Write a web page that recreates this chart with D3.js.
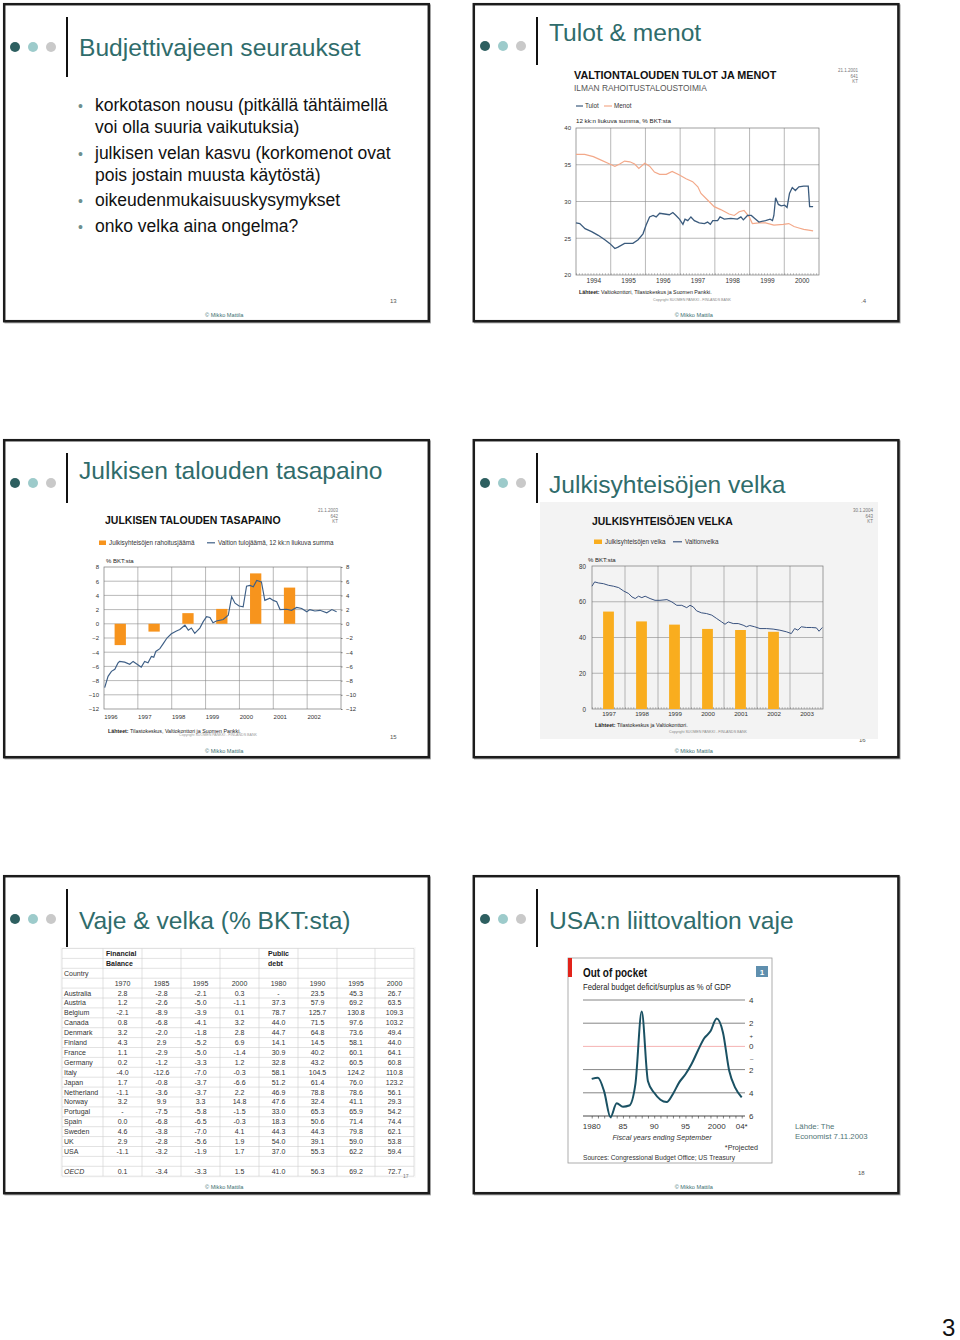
<!DOCTYPE html>
<html><head><meta charset="utf-8">
<script src="https://cdn.jsdelivr.net/npm/d3@7"></script>
<style>
body{margin:0;background:#fff;}
svg{display:block;font-family:"Liberation Sans",Arial,Helvetica,sans-serif;}
</style></head><body>
<script>
// ================= DATA =================
const slideTitles = ["Budjettivajeen seuraukset","Tulot & menot","Julkisen talouden tasapaino","Julkisyhteisöjen velka","Vaje & velka (% BKT:sta)","USA:n liittovaltion vaje"];
const bulletLines = [["korkotason nousu (pitkällä tähtäimellä","voi olla suuria vaikutuksia)"],["julkisen velan kasvu (korkomenot ovat","pois jostain muusta käytöstä)"],["oikeudenmukaisuuskysymykset"],["onko velka aina ongelma?"]];

// Slide 2: Valtiontalouden tulot ja menot (12 kk liukuva summa, % BKT)
const tulotT = [1994.00,1994.11,1994.26,1994.45,1994.64,1994.83,1994.97,1995.12,1995.21,1995.40,1995.64,1995.79,1995.93,1996.02,1996.12,1996.22,1996.31,1996.41,1996.55,1996.69,1996.79,1996.88,1996.98,1997.08,1997.14,1997.22,1997.31,1997.41,1997.55,1997.70,1997.79,1997.87,1997.94,1998.08,1998.15,1998.27,1998.46,1998.65,1998.75,1998.82,1998.94,1999.05,1999.15,1999.27,1999.46,1999.59,1999.66,1999.70,1999.75,1999.83,1999.91,2000.01,2000.08,2000.15,2000.23,2000.32,2000.42,2000.56,2000.69,2000.73,2000.83];
const tulotV = [27.1,27.0,26.3,25.9,25.4,24.8,24.3,23.6,23.8,24.3,24.3,24.8,25.6,26.8,27.9,28.1,27.9,28.4,28.3,28.2,28.5,28.1,27.6,26.9,27.6,27.4,27.9,27.4,27.1,27.0,27.2,26.9,27.4,27.4,27.9,27.6,27.7,27.6,27.9,27.5,28.1,28.1,27.7,27.2,27.4,27.6,27.4,28.1,30.5,29.6,29.4,29.5,29.2,31.1,31.9,31.5,32.0,32.1,32.1,29.3,29.3];
const menotT = [1994.00,1994.25,1994.50,1994.74,1994.97,1995.12,1995.26,1995.40,1995.55,1995.69,1995.81,1995.98,1996.12,1996.26,1996.41,1996.60,1996.77,1996.98,1997.17,1997.36,1997.51,1997.60,1997.79,1997.98,1998.17,1998.41,1998.56,1998.70,1998.84,1998.99,1999.08,1999.27,1999.46,1999.70,1999.97,2000.13,2000.28,2000.42,2000.56,2000.70,2000.83];
const menotV = [36.4,36.4,36.1,35.6,35.1,34.8,35.1,35.5,35.4,35.1,34.5,35.2,34.8,34.0,33.7,33.7,34.1,33.6,33.1,32.7,32.0,31.1,30.2,29.3,28.9,28.3,28.1,28.6,28.8,27.9,27.0,27.1,27.1,26.8,26.9,27.0,26.6,26.4,26.2,26.1,26.0];
const s2YTicks = [20,25,30,35,40];
const s2Years = [1994,1995,1996,1997,1998,1999,2000];

// Slide 3: Julkisen talouden tasapaino
const balYears = [1996,1997,1998,1999,2000,2001];
const balValues = [-3.0,-1.1,1.5,2.1,7.1,5.1];
const tuloT = [1996.02,1996.12,1996.22,1996.32,1996.41,1996.46,1996.61,1996.76,1996.86,1997.01,1997.10,1997.20,1997.30,1997.40,1997.47,1997.53,1997.65,1997.75,1997.86,1997.99,1998.14,1998.24,1998.39,1998.49,1998.58,1998.68,1998.83,1998.93,1999.03,1999.13,1999.22,1999.32,1999.52,1999.67,1999.77,1999.87,1999.99,2000.11,2000.21,2000.31,2000.41,2000.51,2000.65,2000.75,2000.90,2001.00,2001.10,2001.20,2001.39,2001.54,2001.69,2001.84,2001.99,2002.08,2002.23,2002.38,2002.58,2002.73,2002.87];
const tuloV = [-9.0,-7.4,-6.7,-6.4,-5.55,-5.3,-5.4,-5.7,-5.3,-5.8,-6.1,-5.3,-5.5,-4.6,-4.7,-3.9,-3.5,-2.8,-2.0,-1.4,-1.0,-0.8,-0.2,-0.9,-0.6,-1.35,-0.6,0.3,1.0,0.9,0.15,0.4,0.6,1.2,3.8,2.9,2.5,2.4,5.3,5.4,5.2,6.1,5.9,3.3,3.6,3.3,3.1,2.0,2.05,1.9,2.3,2.15,1.7,2.0,1.8,1.9,1.55,2.0,1.7];
const s3YTicks = [-12,-10,-8,-6,-4,-2,0,2,4,6,8];
const s3Years = [1996,1997,1998,1999,2000,2001,2002];

// Slide 4: Julkisyhteisöjen velka
const debtYears = [1997,1998,1999,2000,2001,2002];
const debtValues = [54.5,49.0,47.2,44.8,44.2,43.2];
const velkaT = [1997.00,1997.08,1997.20,1997.35,1997.50,1997.65,1997.81,1997.96,1998.11,1998.21,1998.31,1998.41,1998.51,1998.61,1998.76,1998.91,1999.06,1999.27,1999.42,1999.57,1999.72,1999.87,1999.97,2000.07,2000.17,2000.32,2000.47,2000.63,2000.78,2000.93,2001.03,2001.13,2001.28,2001.43,2001.58,2001.68,2001.78,2001.93,2002.09,2002.29,2002.49,2002.69,2002.89,2003.04,2003.14,2003.24,2003.34,2003.50,2003.65,2003.80,2003.88,2003.98];
const velkaV = [68.7,71.1,70.5,70.1,69.2,68.7,67.9,66.0,64.6,62.7,61.8,63.1,62.3,63.1,61.8,60.8,60.8,61.2,59.9,58.0,58.0,56.7,58.0,57.1,54.9,53.8,53.4,52.5,50.6,48.7,47.4,48.7,47.8,47.8,46.9,46.0,46.7,46.0,45.0,45.0,44.7,44.1,43.2,42.2,45.0,44.1,46.0,45.6,45.6,45.4,43.5,45.6];
const s4YTicks = [0,20,40,60,80];
const s4Years = [1997,1998,1999,2000,2001,2002,2003];

// Slide 5: table
const tableYears = ["1970","1985","1995","2000","1980","1990","1995","2000"];
const countries = ["Australia","Austria","Belgium","Canada","Denmark","Finland","France","Germany","Italy","Japan","Netherland","Norway","Portugal","Spain","Sweden","UK","USA"];
const fb1970 = ["2.8","1.2","-2.1","0.8","3.2","4.3","1.1","0.2","-4.0","1.7","-1.1","3.2","-","0.0","4.6","2.9","-1.1"];
const fb1985 = ["-2.8","-2.6","-8.9","-6.8","-2.0","2.9","-2.9","-1.2","-12.6","-0.8","-3.6","9.9","-7.5","-6.8","-3.8","-2.8","-3.2"];
const fb1995 = ["-2.1","-5.0","-3.9","-4.1","-1.8","-5.2","-5.0","-3.3","-7.0","-3.7","-3.7","3.3","-5.8","-6.5","-7.0","-5.6","-1.9"];
const fb2000 = ["0.3","-1.1","0.1","3.2","2.8","6.9","-1.4","1.2","-0.3","-6.6","2.2","14.8","-1.5","-0.3","4.1","1.9","1.7"];
const pd1980 = ["-","37.3","78.7","44.0","44.7","14.1","30.9","32.8","58.1","51.2","46.9","47.6","33.0","18.3","44.3","54.0","37.0"];
const pd1990 = ["23.5","57.9","125.7","71.5","64.8","14.5","40.2","43.2","104.5","61.4","78.8","32.4","65.3","50.6","44.3","39.1","55.3"];
const pd1995 = ["45.3","69.2","130.8","97.6","73.6","58.1","60.1","60.5","124.2","76.0","78.6","41.1","65.9","71.4","79.8","59.0","62.2"];
const pd2000 = ["26.7","63.5","109.3","103.2","49.4","44.0","64.1","60.8","110.8","123.2","56.1","29.3","54.2","74.4","62.1","53.8","59.4"];
const oecdRow = ["0.1","-3.4","-3.3","1.5","41.0","56.3","69.2","72.7"];

// Slide 6: US federal budget deficit/surplus, % of GDP
const usYears = [1980,1981,1982,1983,1984,1985,1986,1987,1988,1989,1990,1991,1992,1993,1994,1995,1996,1997,1998,1999,2000,2001,2002,2003,2004];
const usBalance = [-2.8,-2.7,-3.9,-6.1,-4.9,-5.2,-5.1,-3.2,3.0,-3.0,-4.0,-4.6,-4.8,-4.1,-3.1,-2.4,-1.5,-0.35,0.7,1.3,2.4,1.2,-2.1,-3.6,-4.4];
const s6YTicks = [4,2,0,-2,-4,-6];
const s6YLabels = ["4","2","0","2","4","6"];
const s6XTicks = [1980,1985,1990,1995,2000,2004];
const s6XLabels = ["1980","85","90","95","2000","04*"];

// ================= DRAWING =================
const svg = d3.select('body').append('svg').attr('width',960).attr('height',1340);
svg.append('rect').attr('width',960).attr('height',1340).attr('fill','#fff');

function txt(x,y,s,o={}){
  const t = svg.append('text').attr('x',x).attr('y',y).text(s)
    .attr('font-size',o.size||10).attr('fill',o.fill||'#111');
  if(o.anchor) t.attr('text-anchor',o.anchor);
  if(o.weight) t.attr('font-weight',o.weight);
  if(o.style) t.attr('font-style',o.style);
  if(o.len) t.attr('textLength',o.len).attr('lengthAdjust','spacingAndGlyphs');
  if(o.family) t.attr('font-family',o.family);
  return t;
}
function ln(x1,y1,x2,y2,stroke,w){
  return svg.append('line').attr('x1',x1).attr('y1',y1).attr('x2',x2).attr('y2',y2)
    .attr('stroke',stroke).attr('stroke-width',w);
}

// slide frames
const slidePos = [[4.2,4.2],[473.8,4.2],[4.2,440.2],[473.8,440.2],[4.2,876.2],[473.8,876.2]];
slidePos.forEach(([x,y])=>{
  svg.append('rect').attr('x',x+1.2).attr('y',y+1.2).attr('width',424.6).attr('height',317)
    .attr('fill','none').attr('stroke','#aaa').attr('stroke-width',2);
  svg.append('rect').attr('x',x).attr('y',y).attr('width',424.6).attr('height',317)
    .attr('fill','#fff').attr('stroke','#1c1c1c').attr('stroke-width',2.5);
});

// headers
const dotCols = ['#2d5f60','#9dcbcb','#c9c9c9'];
function header(dx, dotY, lTop, lBot, tY, title){
  [0,18,36].forEach((o,i)=>svg.append('circle').attr('cx',dx+o).attr('cy',dotY).attr('r',5).attr('fill',dotCols[i]));
  ln(dx+52,lTop,dx+52,lBot,'#111',2);
  txt(dx+64,tY,title,{size:24.6,fill:'#2f6c6b'});
}
header(15,47,17,77,56,slideTitles[0]);
header(485,46,17,65,41,slideTitles[1]);
header(15,483,453,503,479,slideTitles[2]);
header(485,483,453,503,493,slideTitles[3]);
header(15,919,889,947,929,slideTitles[4]);
header(485,919,889,947,929,slideTitles[5]);

// footers & slide numbers
slidePos.forEach(([x,y])=>{
  txt(x+220,y+313,'© Mikko Mattila',{size:5.6,fill:'#3d6f6f',anchor:'middle'});
});
txt(390,303,'13',{size:6,fill:'#555'});
txt(861,303,'.4',{size:6,fill:'#555'});
txt(390,739,'15',{size:6,fill:'#555'});
txt(859,742,'16',{size:6,fill:'#555'});
txt(858,1175,'18',{size:6,fill:'#555'});
txt(942,1336,'3',{size:24,fill:'#111'});

// ---------- Slide 1 bullets ----------
(function(){
  let y = 111;
  bulletLines.forEach(lines=>{
    txt(78,y,'•',{size:14,fill:'#6d8f8f'});
    lines.forEach((l,i)=>{ txt(95,y,l,{size:17.5,fill:'#111'}); y += 22; });
    y += 3.5;
  });
})();

// ---------- Slide 2 chart ----------
(function(){
  const x = d3.scaleLinear().domain([1994,2001]).range([576,819]);
  const y = d3.scaleLinear().domain([20,40]).range([275,128]);
  txt(574,79,'VALTIONTALOUDEN TULOT JA MENOT',{size:10.8,weight:'bold',fill:'#111'});
  txt(574,91,'ILMAN RAHOITUSTALOUSTOIMIA',{size:8.4,fill:'#555'});
  txt(858,72,'21.1.2001',{size:4.5,fill:'#777',anchor:'end'});
  txt(858,77.5,'641',{size:4.5,fill:'#777',anchor:'end'});
  txt(858,83,'KT',{size:4.5,fill:'#777',anchor:'end'});
  ln(576,106,583,106,'#3b5b7d',1.2);
  txt(585,108,'Tulot',{size:6.3,fill:'#333'});
  ln(604,106,612,106,'#f3a98a',1.2);
  txt(614,108,'Menot',{size:6.3,fill:'#333'});
  txt(576,123,'12 kk:n liukuva summa, % BKT:sta',{size:6.2,fill:'#222'});
  const g = svg.append('g');
  s2Years.slice(1).forEach(v=>g.append('line').attr('x1',x(v)).attr('x2',x(v)).attr('y1',128).attr('y2',275).attr('stroke','#8a8a8a').attr('stroke-width',0.6));
  [25,30,35].forEach(v=>g.append('line').attr('x1',576).attr('x2',819).attr('y1',y(v)).attr('y2',y(v)).attr('stroke','#8a8a8a').attr('stroke-width',0.6));
  g.append('rect').attr('x',576).attr('y',128).attr('width',243).attr('height',147).attr('fill','none').attr('stroke','#777').attr('stroke-width',0.7);
  svg.append('g').attr('transform','translate(0,275)')
    .call(d3.axisTop(x).tickValues(d3.range(0,84).map(i=>1994+i/12)).tickSize(1.8).tickFormat(''))
    .call(a=>{a.select('.domain').remove(); a.selectAll('line').attr('stroke','#777').attr('stroke-width',0.5);});
  const ya = svg.append('g').attr('transform','translate(576,0)')
    .call(d3.axisLeft(y).tickValues(s2YTicks).tickSize(0).tickPadding(5));
  ya.select('.domain').remove();
  ya.selectAll('text').attr('font-size',6).attr('fill','#333').attr('font-family','Liberation Sans, Arial');
  const xa = svg.append('g').attr('transform','translate(0,275)')
    .call(d3.axisBottom(x).tickValues(s2Years.map(v=>v+0.5)).tickFormat(d=>Math.floor(d)).tickSize(0).tickPadding(3.5));
  xa.select('.domain').remove();
  xa.selectAll('text').attr('font-size',6.5).attr('fill','#333').attr('font-family','Liberation Sans, Arial');
  const line = d3.line().x(d=>x(d[0])).y(d=>y(d[1]));
  svg.append('path').datum(menotT.map((t,i)=>[t,menotV[i]])).attr('d',line).attr('fill','none').attr('stroke','#f3a98a').attr('stroke-width',1.2);
  svg.append('path').datum(tulotT.map((t,i)=>[t,tulotV[i]])).attr('d',line).attr('fill','none').attr('stroke','#3b5b7d').attr('stroke-width',1.3);
  const src = txt(579,294,'',{size:5.3,fill:'#222'});
  src.append('tspan').attr('font-weight','bold').text('Lähteet: ');
  src.append('tspan').text('Valtiokonttori, Tilastokeskus ja Suomen Pankki.');
  txt(692,301,'Copyright SUOMEN PANKKI - FINLANDS BANK',{size:3.6,fill:'#888',anchor:'middle'});
})();

// ---------- Slide 3 chart ----------
(function(){
  const x = d3.scaleLinear().domain([1996,2003]).range([104,341]);
  const y = d3.scaleLinear().domain([-12,8]).range([709,567]);
  txt(105,524,'JULKISEN TALOUDEN TASAPAINO',{size:10.5,weight:'bold',fill:'#111'});
  txt(338,512,'21.1.2003',{size:4.5,fill:'#777',anchor:'end'});
  txt(338,517.5,'642',{size:4.5,fill:'#777',anchor:'end'});
  txt(338,523,'KT',{size:4.5,fill:'#777',anchor:'end'});
  svg.append('rect').attr('x',99).attr('y',540.5).attr('width',7).attr('height',4.5).attr('fill','#f7941d');
  txt(109,545,'Julkisyhteisöjen rahoitusjäämä',{size:6.3,fill:'#333'});
  ln(207,542.8,215,542.8,'#3e5f86',1.2);
  txt(218,545,'Valtion tulojäämä, 12 kk:n liukuva summa',{size:6.3,fill:'#333'});
  txt(106,563,'% BKT:sta',{size:6,fill:'#222'});
  s3Years.slice(1).forEach(v=>ln(x(v),567,x(v),709,'#8a8a8a',0.6));
  s3YTicks.slice(1,-1).forEach(v=>ln(104,y(v),341,y(v),'#8a8a8a',0.6));
  svg.append('rect').attr('x',104).attr('y',567).attr('width',237).attr('height',142).attr('fill','none').attr('stroke','#777').attr('stroke-width',0.7);
  const ya = svg.append('g').attr('transform','translate(104,0)')
    .call(d3.axisLeft(y).tickValues(s3YTicks).tickSize(0).tickPadding(5));
  ya.select('.domain').remove();
  ya.selectAll('text').attr('font-size',6).attr('fill','#333').attr('font-family','Liberation Sans, Arial');
  const yr = svg.append('g').attr('transform','translate(341,0)')
    .call(d3.axisRight(y).tickValues(s3YTicks).tickSize(1.5).tickPadding(3.5));
  yr.select('.domain').remove();
  yr.selectAll('line').attr('stroke','#777');
  yr.selectAll('text').attr('font-size',6).attr('fill','#333').attr('font-family','Liberation Sans, Arial');
  const xa = svg.append('g').attr('transform','translate(0,709)')
    .call(d3.axisBottom(x).tickValues(s3Years.map(v=>v+0.19)).tickFormat(d=>Math.floor(d)).tickSize(0).tickPadding(6));
  xa.select('.domain').remove();
  xa.selectAll('text').attr('font-size',6).attr('fill','#333').attr('font-family','Liberation Sans, Arial');
  const bw = 11.3;
  svg.append('g').selectAll('rect').data(balYears).join('rect')
    .attr('x',d=>x(d+0.48)-bw/2).attr('width',bw)
    .attr('y',(d,i)=>Math.min(y(0),y(balValues[i])))
    .attr('height',(d,i)=>Math.abs(y(balValues[i])-y(0)))
    .attr('fill','#f7941d');
  const line = d3.line().x(d=>x(d[0])).y(d=>y(d[1]));
  svg.append('path').datum(tuloT.map((t,i)=>[t,tuloV[i]])).attr('d',line).attr('fill','none').attr('stroke','#3e5f86').attr('stroke-width',1.15);
  const src = txt(108,733,'',{size:5.3,fill:'#222'});
  src.append('tspan').attr('font-weight','bold').text('Lähteet: ');
  src.append('tspan').text('Tilastokeskus, Valtiokonttori ja Suomen Pankki.');
  txt(218,735.5,'Copyright SUOMEN PANKKI - FINLANDS BANK',{size:3.6,fill:'#999',anchor:'middle'});
})();

// ---------- Slide 4 chart ----------
(function(){
  svg.append('rect').attr('x',540).attr('y',502).attr('width',338).attr('height',237).attr('fill','#f3f3f3');
  const x = d3.scaleLinear().domain([1997,2004]).range([592,823]);
  const y = d3.scaleLinear().domain([0,80]).range([709,566]);
  txt(592,525,'JULKISYHTEISÖJEN VELKA',{size:10.4,weight:'bold',fill:'#111'});
  txt(873,512,'30.1.2004',{size:4.5,fill:'#777',anchor:'end'});
  txt(873,517.5,'643',{size:4.5,fill:'#777',anchor:'end'});
  txt(873,523,'KT',{size:4.5,fill:'#777',anchor:'end'});
  svg.append('rect').attr('x',594).attr('y',539.5).attr('width',8).attr('height',4.5).attr('fill','#f9ad1e');
  txt(605,544,'Julkisyhteisöjen velka',{size:6.3,fill:'#333'});
  ln(673,541.8,682,541.8,'#2f4a78',1.1);
  txt(685,544,'Valtionvelka',{size:6.3,fill:'#333'});
  txt(588,562,'% BKT:sta',{size:6,fill:'#222'});
  s4Years.slice(1).forEach(v=>ln(x(v),566,x(v),709,'#8a8a8a',0.6));
  [20,40,60].forEach(v=>ln(592,y(v),823,y(v),'#8a8a8a',0.6));
  svg.append('rect').attr('x',592).attr('y',566).attr('width',231).attr('height',143).attr('fill','none').attr('stroke','#777').attr('stroke-width',0.7);
  svg.append('g').attr('transform','translate(0,709)')
    .call(d3.axisTop(x).tickValues(d3.range(0,84).map(i=>1997+i/12)).tickSize(1.8).tickFormat(''))
    .call(a=>{a.select('.domain').remove(); a.selectAll('line').attr('stroke','#777').attr('stroke-width',0.5);});
  const ya = svg.append('g').attr('transform','translate(592,0)')
    .call(d3.axisLeft(y).tickValues(s4YTicks).tickSize(0).tickPadding(6));
  ya.select('.domain').remove();
  ya.selectAll('text').attr('font-size',6.3).attr('fill','#333').attr('font-family','Liberation Sans, Arial');
  const xa = svg.append('g').attr('transform','translate(0,709)')
    .call(d3.axisBottom(x).tickValues(s4Years.map(v=>v+0.5)).tickFormat(d=>Math.floor(d)).tickSize(0).tickPadding(2.5));
  xa.select('.domain').remove();
  xa.selectAll('text').attr('font-size',6.2).attr('fill','#333').attr('font-family','Liberation Sans, Arial');
  const bw = 10.8;
  svg.append('g').selectAll('rect').data(debtYears).join('rect')
    .attr('x',d=>x(d+0.5)-bw/2).attr('width',bw)
    .attr('y',(d,i)=>y(debtValues[i])).attr('height',(d,i)=>y(0)-y(debtValues[i]))
    .attr('fill','#f9ad1e');
  const line = d3.line().x(d=>x(d[0])).y(d=>y(d[1]));
  svg.append('path').datum(velkaT.map((t,i)=>[t,velkaV[i]])).attr('d',line).attr('fill','none').attr('stroke','#2f4a78').attr('stroke-width',0.95);
  const src = txt(595,727,'',{size:5.3,fill:'#222'});
  src.append('tspan').attr('font-weight','bold').text('Lähteet: ');
  src.append('tspan').text('Tilastokeskus ja Valtiokonttori.');
  txt(708,733,'Copyright SUOMEN PANKKI - FINLANDS BANK',{size:3.6,fill:'#888',anchor:'middle'});
})();

// ---------- Slide 5 table ----------
(function(){
  const colX = [62,103,142,181,220,259,298,337,375,414];
  const top = 948.5, rh = 9.9, nRows = 23;
  svg.append('rect').attr('x',60).attr('y',top-1.5).attr('width',356).attr('height',nRows*rh+3).attr('fill','#fafafa');
  svg.append('rect').attr('x',62).attr('y',top).attr('width',352).attr('height',nRows*rh).attr('fill','#fff');
  for(let i=0;i<=nRows;i++) ln(62,top+i*rh,414,top+i*rh,'#cfcfcf',0.6);
  colX.forEach(cx=>ln(cx,top,cx,top+nRows*rh,'#cfcfcf',0.6));
  const by = i=>top+(i+0.5)*rh+2.5;
  const fs = 7;
  txt(106,by(0),'Financial',{size:fs,weight:'bold',fill:'#222'});
  txt(106,by(1),'Balance',{size:fs,weight:'bold',fill:'#222'});
  txt(268,by(0),'Public',{size:fs,weight:'bold',fill:'#222'});
  txt(268,by(1),'debt',{size:fs,weight:'bold',fill:'#222'});
  txt(64,by(2),'Country',{size:fs,fill:'#333'});
  const cc = i=>(colX[i+1]+colX[i+2])/2;
  tableYears.forEach((s,i)=>txt(cc(i),by(3),s,{size:fs,fill:'#333',anchor:'middle'}));
  const cols = [fb1970,fb1985,fb1995,fb2000,pd1980,pd1990,pd1995,pd2000];
  countries.forEach((c,r)=>{
    txt(64,by(4+r),c,{size:fs,fill:'#333'});
    cols.forEach((arr,i)=>txt(cc(i),by(4+r),arr[r],{size:fs,fill:'#333',anchor:'middle'}));
  });
  txt(64,by(22),'OECD',{size:fs,fill:'#333',style:'italic'});
  oecdRow.forEach((s,i)=>txt(cc(i),by(22),s,{size:fs,fill:'#333',anchor:'middle'}));
  txt(403,by(22)+4,'17',{size:5,fill:'#777'});
})();

// ---------- Slide 6 Economist chart ----------
(function(){
  svg.append('rect').attr('x',568).attr('y',958).attr('width',204).attr('height',205).attr('fill','#fff').attr('stroke','#999').attr('stroke-width',0.8);
  svg.append('rect').attr('x',568).attr('y',958).attr('width',4).attr('height',19).attr('fill','#e2231a');
  txt(583,977,'Out of pocket',{size:12,weight:'bold',fill:'#111',len:64});
  txt(583,990,'Federal budget deficit/surplus as % of GDP',{size:8.5,fill:'#222',len:148});
  svg.append('rect').attr('x',756).attr('y',966).attr('width',12).attr('height',11).attr('fill','#5f8fae');
  txt(762,975,'1',{size:8,weight:'bold',fill:'#fff',anchor:'middle'});
  const x = d3.scaleLinear().domain([1980,2004]).range([591.7,741.7]);
  const y = d3.scaleLinear().domain([-6,4]).range([1116,1000]);
  s6YTicks.forEach(v=>{
    const col = v===0 ? '#f2a0a0' : (v===-6 ? '#333' : '#666');
    ln(583,y(v),745,y(v),col,v===-6?0.9:0.8);
  });
  svg.append('g').attr('transform','translate(0,'+y(-6)+')')
    .call(d3.axisBottom(x).tickValues(usYears).tickSize(2.5).tickFormat(''))
    .call(a=>{a.select('.domain').remove(); a.selectAll('line').attr('stroke','#333').attr('stroke-width',0.6);});
  s6YTicks.forEach((v,i)=>txt(749,y(v)+3,s6YLabels[i],{size:8,fill:'#333'}));
  txt(749.5,y(1)+3,'+',{size:6,fill:'#333'});
  txt(750,y(-1)+3,'–',{size:6,fill:'#333'});
  s6XTicks.forEach((v,i)=>txt(x(v),1129,s6XLabels[i],{size:8,fill:'#333',anchor:'middle'}));
  txt(662,1140,'Fiscal years ending September',{size:7.2,fill:'#333',anchor:'middle',style:'italic'});
  txt(758,1150,'*Projected',{size:7.2,fill:'#333',anchor:'end'});
  txt(583,1160,'Sources: Congressional Budget Office; US Treasury',{size:7.2,fill:'#333',len:152});
  const line = d3.line().x(d=>x(d[0])).y(d=>y(d[1])).curve(d3.curveMonotoneX);
  svg.append('path').datum(usYears.map((t,i)=>[t,usBalance[i]])).attr('d',line).attr('fill','none').attr('stroke','#1a5163').attr('stroke-width',2);
  txt(795,1129,'Lähde: The',{size:7.8,fill:'#4f7575'});
  txt(795,1139,'Economist 7.11.2003',{size:7.8,fill:'#4f7575'});
})();
</script>
</body></html>
